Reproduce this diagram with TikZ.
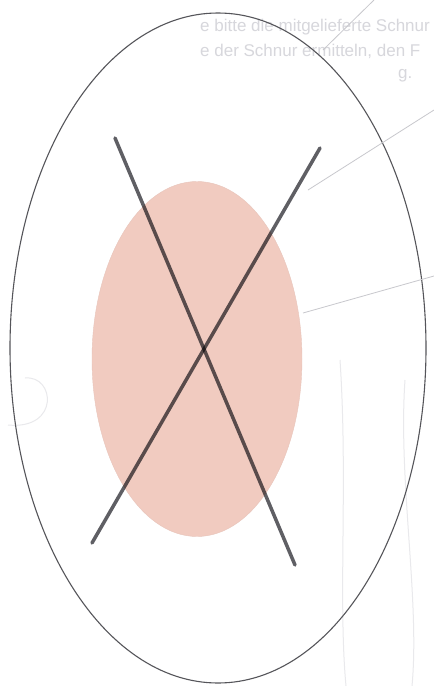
\documentclass[tikz,border=0pt]{standalone}
\usepackage{fontspec}
\setmainfont{Liberation Sans}
\usepackage{xcolor}
\usetikzlibrary{shapes.geometric,positioning,calc}

\definecolor{rimgray}{RGB}{85,85,90}
\definecolor{blobpink}{RGB}{241,203,192}
\definecolor{bargray}{RGB}{95,95,100}
\definecolor{leadgray}{RGB}{200,200,205}
\definecolor{ghostgray}{RGB}{215,215,220}

\begin{document}
\begin{tikzpicture}[x=1pt, y=-1pt,
    rim/.style={draw=rimgray, ellipse, line width=1.1pt, inner sep=0pt},
    blob/.style={fill=blobpink, draw=blobpink!92!gray, ellipse, line width=0.4pt, inner sep=0pt},
    bar/.style={draw=bargray, line width=3.5pt, line cap=round, blend mode=multiply},
    lead/.style={draw=leadgray, line width=0.8pt},
    faint/.style={draw=ghostgray!55, line width=1pt},
    ghost/.style={text=ghostgray, font=\fontsize{17}{20}\selectfont, anchor=base west, inner sep=0pt}
]
\useasboundingbox (0,0) rectangle (434,686);
\fill[white] (0,0) rectangle (434,686);
\clip (0,0) rectangle (434,686);

% text showing through from the back
\node[ghost] (txta) at (200,31) {e bitte die mitgelieferte Schnur};
\node[ghost] (txtb) at (200,56) {e der Schnur ermitteln, den F};
\node[ghost] (txtc) at (398,78) {g.};

% faint sketches from the back
\draw[faint] (8,425) .. controls (60,430) and (55,375) .. (25,378);
\draw[faint] (340,360) .. controls (348,480) and (338,600) .. (346,686);
\draw[faint] (405,380) .. controls (398,480) and (420,600) .. (412,686);

% the two ellipses
\node[rim, minimum width=416pt, minimum height=670pt] (outer) at (218,348) {};
\node[blob, minimum width=210pt, minimum height=355pt] (spot) at (197,359) {};

% leader lines
\coordinate (la) at (308,190);
\coordinate (lb) at (303,313);
\coordinate (lc) at (323,50);
\draw[lead] (la) -- (434,110);
\draw[lead] (lb) -- (434,276);
\draw[lead] (lc) -- (374,0);

% the cross
\coordinate (xa) at (115,138);
\coordinate (xb) at (295,565);
\coordinate (xc) at (320,148);
\coordinate (xd) at (92,543);
\draw[bar] (xa) -- (xb);
\draw[bar] (xc) -- (xd);
\end{tikzpicture}
\end{document}
